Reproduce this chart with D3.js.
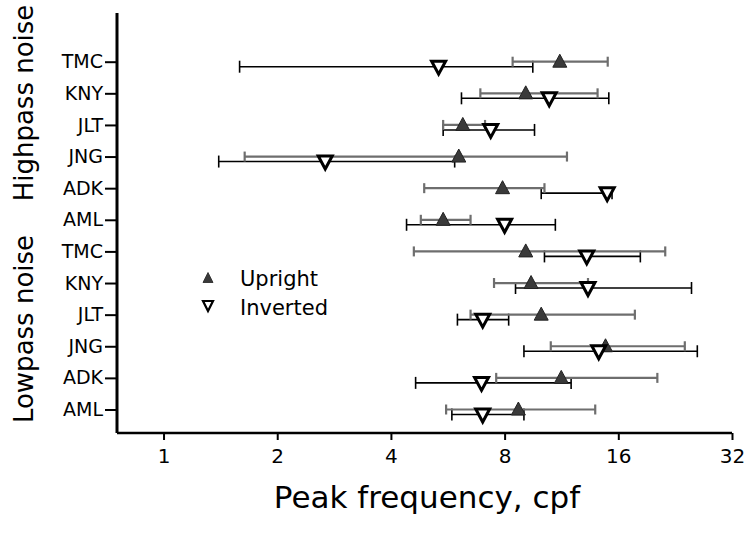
<!DOCTYPE html>
<html>
<head>
<meta charset="utf-8">
<script src="https://cdn.jsdelivr.net/npm/d3@7"></script>
<style>
  html, body { margin: 0; padding: 0; background: #fff; }
  text { font-family: "DejaVu Sans", sans-serif; fill: #000; }
</style>
</head>
<body>
<svg id="chart" width="748" height="538"></svg>
<script>
// ---- data ----
const subjects = ["TMC", "KNY", "JLT", "JNG", "ADK", "AML", "TMC", "KNY", "JLT", "JNG", "ADK", "AML"];
const groups = ["Highpass noise", "Lowpass noise"];
const xTicks = [1, 2, 4, 8, 16, 32];

// Upright: peak, lower, upper (cpf)
const uprightPeak  = [11.2, 9.1, 6.2, 6.05, 7.9, 5.5,   9.1, 9.4, 10.0, 14.8, 11.3, 8.7];
const uprightLow   = [8.4,  6.9, 5.5, 1.64, 4.9, 4.8,   4.6, 7.5, 6.5, 10.6, 7.6, 5.6];
const uprightHigh  = [15.0, 14.1, 7.1, 11.7, 10.2, 6.5, 21.3, 13.3, 17.7, 24.0, 20.3, 13.9];

// Inverted: peak, lower, upper (cpf)
const invertedPeak = [5.35, 10.5, 7.35, 2.68, 14.95, 8.0,  13.2, 13.3, 7.0, 14.2, 6.95, 7.0];
const invertedLow  = [1.59, 6.15, 5.5, 1.40, 10.0, 4.4,    10.2, 8.55, 6.0, 9.0, 4.65, 5.8];
const invertedHigh = [9.5, 15.1, 9.6, 5.9, 15.4, 10.9,     18.3, 25.0, 8.2, 25.9, 12.0, 9.0];

const legendLabels = ["Upright", "Inverted"];
const xTitle = "Peak frequency, cpf";

// ---- layout ----
const svg = d3.select("#chart");
const axisLeftX = 117, axisTop = 13, axisBottomY = 433, axisRight = 732;

const x = d3.scaleLog().base(2).domain([0.753, 32]).range([axisLeftX, axisRight]);
const y = d3.scalePoint().domain(d3.range(subjects.length)).range([61.7, 409.5]);

const uprightColor = "#3a3a3a";
const uprightBar = "#6e6e6e";

// axes
const xAxis = d3.axisBottom(x).tickValues(xTicks).tickFormat(d3.format("d")).tickSizeOuter(0).tickSizeInner(7).tickPadding(9);
const gx = svg.append("g").attr("transform", `translate(0,${axisBottomY})`).call(xAxis);
gx.select(".domain").attr("stroke-width", 2.5).attr("d", `M${axisLeftX},0H${axisRight}`);
gx.selectAll(".tick line").attr("stroke-width", 2);
gx.selectAll(".tick text").attr("font-size", 20).attr("font-family", "DejaVu Sans, sans-serif");

const yAxis = d3.axisLeft(y).tickFormat(i => subjects[i]).tickSizeOuter(0).tickSizeInner(12).tickPadding(2);
const gy = svg.append("g").attr("transform", `translate(${axisLeftX},0)`).call(yAxis);
gy.select(".domain").attr("stroke-width", 3).attr("d", `M0,${axisTop}V${axisBottomY}`);
gy.selectAll(".tick line").attr("stroke-width", 2);
gy.selectAll(".tick text").attr("font-size", 19).attr("font-family", "Liberation Sans, Arial, sans-serif");

// group labels
const groupCenters = [103, 329];
svg.selectAll(".grp").data(groups).enter().append("text")
  .attr("class", "grp")
  .attr("transform", (d, i) => `translate(33,${groupCenters[i]}) rotate(-90)`)
  .attr("text-anchor", "middle")
  .attr("font-size", 26)
  .text(d => d);

// x title
svg.append("text")
  .attr("x", 427).attr("y", 508)
  .attr("text-anchor", "middle")
  .attr("font-size", 31)
  .text(xTitle);

// ---- marks ----
const idx = d3.range(subjects.length);
const upOff = 0, invOff = 5;
const capU = 5, capI = 6;

function errBar(g, lo, hi, yy, cap, color, width) {
  g.append("line").attr("x1", x(lo)).attr("x2", x(hi)).attr("y1", yy).attr("y2", yy)
    .attr("stroke", color).attr("stroke-width", width);
  [lo, hi].forEach(v => {
    g.append("line").attr("x1", x(v)).attr("x2", x(v)).attr("y1", yy - cap).attr("y2", yy + cap)
      .attr("stroke", color).attr("stroke-width", width);
  });
}

const bars = svg.append("g");
idx.forEach(i => {
  errBar(bars, invertedLow[i], invertedHigh[i], y(i) + invOff, capI, "#000", 1.6);
});
idx.forEach(i => {
  errBar(bars, uprightLow[i], uprightHigh[i], y(i) + upOff, capU, uprightBar, 2.2);
});

function upTri(cx, cy, w, h) {
  return `M${cx},${cy - h / 2}L${cx + w / 2},${cy + h / 2}L${cx - w / 2},${cy + h / 2}Z`;
}
function downTri(cx, cy, w, h) {
  return `M${cx - w / 2},${cy - h / 2}L${cx + w / 2},${cy - h / 2}L${cx},${cy + h / 2}Z`;
}

svg.append("g").selectAll("path").data(idx).enter().append("path")
  .attr("d", i => upTri(x(uprightPeak[i]), y(i) + upOff - 1, 14, 13))
  .attr("fill", uprightColor).attr("stroke", "#222").attr("stroke-width", 1);

svg.append("g").selectAll("path").data(idx).enter().append("path")
  .attr("d", i => downTri(x(invertedPeak[i]), y(i) + invOff + 1, 14, 13))
  .attr("fill", "#fff").attr("stroke", "#000").attr("stroke-width", 3).attr("stroke-linejoin", "miter");

// legend
const leg = svg.append("g");
leg.append("path").attr("d", upTri(208, 277.5, 10, 10)).attr("fill", uprightColor).attr("stroke", "#222").attr("stroke-width", 0.8);
leg.append("path").attr("d", downTri(208, 306, 10, 10)).attr("fill", "#fff").attr("stroke", "#000").attr("stroke-width", 2.2);
leg.selectAll("text").data(legendLabels).enter().append("text")
  .attr("x", 240).attr("y", (d, i) => 285.5 + i * 29.5)
  .attr("font-size", 21)
  .text(d => d);
</script>
</body>
</html>
